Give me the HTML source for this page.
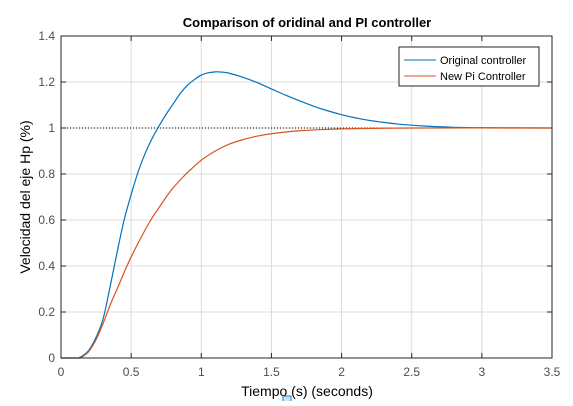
<!DOCTYPE html>
<html><head><meta charset="utf-8"><style>
body{margin:0;background:#fff}
svg text{font-family:"Liberation Sans",sans-serif}
</style></head><body>
<svg width="573" height="401" viewBox="0 0 573 401" xmlns="http://www.w3.org/2000/svg">
<rect x="0" y="0" width="573" height="401" fill="#fff"/>
<rect x="61" y="36" width="491" height="322" fill="#fff"/>
<g id="grid"></g>
<g id="ticks"></g>
<line x1="61" y1="128" x2="552" y2="128" stroke="#000" stroke-width="1" stroke-dasharray="1,2"/>
<g id="series"></g>
<rect x="61" y="36" width="491" height="322" fill="none" stroke="#262626" stroke-width="1"/>
<text x="307" y="27" text-anchor="middle" font-size="13" font-weight="bold" fill="#000">Comparison of oridinal and PI controller</text>
<text x="307" y="396" text-anchor="middle" font-size="14" fill="#000">Tiempo (s) (seconds)</text>
<text transform="translate(30,197) rotate(-90)" text-anchor="middle" font-size="14" fill="#000">Velocidad del eje Hp (%)</text>
<g>
<rect x="399" y="47" width="140" height="39" fill="#fff" stroke="#262626" stroke-width="1"/>
<line x1="404" y1="60" x2="436" y2="60" stroke="#0072bd" stroke-width="1"/>
<text x="440" y="64" font-size="11" fill="#000">Original controller</text>
<line x1="404" y1="76" x2="436" y2="76" stroke="#d95319" stroke-width="1"/>
<text x="440" y="80" font-size="11" fill="#000">New Pi Controller</text>
</g>
<rect x="283" y="396" width="8" height="6" fill="#cde4f7" stroke="#2c7bc0" stroke-width="1"/>
</svg>
<script>
const xTicks=[0,0.5,1,1.5,2,2.5,3,3.5];
const yTicks=[0,0.2,0.4,0.6,0.8,1,1.2,1.4];
const xTickLabels=["0","0.5","1","1.5","2","2.5","3","3.5"];
const yTickLabels=["0","0.2","0.4","0.6","0.8","1","1.2","1.4"];
const tOrig=[0,0.1,0.12,0.15,0.2,0.25,0.3,0.35,0.4,0.45,0.5,0.55,0.6,0.65,0.7,0.75,0.8,0.85,0.9,0.95,1.0,1.05,1.1,1.15,1.2,1.3,1.4,1.5,1.6,1.7,1.8,1.9,2.0,2.1,2.2,2.4,2.6,2.8,3.0,3.5];
const yOrig=[0,0,0,0.008,0.035,0.09,0.17,0.31,0.46,0.6,0.71,0.81,0.89,0.955,1.01,1.06,1.105,1.15,1.185,1.21,1.23,1.24,1.244,1.243,1.238,1.22,1.197,1.17,1.143,1.118,1.095,1.075,1.058,1.044,1.033,1.017,1.008,1.003,1.001,1.0];
const tNew=[0,0.1,0.13,0.15,0.2,0.25,0.3,0.35,0.4,0.47,0.55,0.64,0.7,0.75,0.8,0.87,0.9,1.0,1.1,1.2,1.3,1.4,1.5,1.7,2.0,2.5,3.5];
const yNew=[0,0,0,0.004,0.03,0.08,0.15,0.23,0.3,0.4,0.5,0.6,0.655,0.7,0.74,0.787,0.805,0.86,0.9,0.93,0.95,0.965,0.975,0.988,0.996,1,1];
const X=v=>61+v/3.5*491, Y=v=>358-v/1.4*322;
const NS="http://www.w3.org/2000/svg";
const grid=document.getElementById('grid'),ticks=document.getElementById('ticks'),series=document.getElementById('series');
function mk(tag,attrs,parent){const e=document.createElementNS(NS,tag);for(const k in attrs)e.setAttribute(k,attrs[k]);parent.appendChild(e);return e;}
xTicks.forEach((v,i)=>{
 const g=mk('line',{x1:X(v),x2:X(v),y1:36,y2:358,stroke:'#dcdcdc','stroke-width':1},grid);
 
 
 mk('line',{x1:X(v),x2:X(v),y1:358,y2:353,stroke:'#262626'},ticks);
 mk('line',{x1:X(v),x2:X(v),y1:36,y2:41,stroke:'#262626'},ticks);
 const t=mk('text',{x:X(v),y:376,'text-anchor':'middle','font-size':12,fill:'#4d4d4d'},ticks);
 t.textContent=xTickLabels[i];
 
 
});
yTicks.forEach((v,i)=>{
 const g=mk('line',{x1:61,x2:552,y1:Y(v),y2:Y(v),stroke:'#dcdcdc','stroke-width':1},grid);
 
 
 mk('line',{x1:61,x2:66,y1:Y(v),y2:Y(v),stroke:'#262626'},ticks);
 mk('line',{x1:552,x2:547,y1:Y(v),y2:Y(v),stroke:'#262626'},ticks);
 const t=mk('text',{x:55,y:Y(v)+4,'text-anchor':'end','font-size':12,fill:'#4d4d4d'},ticks);
 t.textContent=yTickLabels[i];
 
 
});
function path(ts,ys){
 const p=ts.map((t,i)=>[X(t),Y(ys[i])]);
 let d='M'+p[0][0]+','+p[0][1];
 for(let i=0;i<p.length-1;i++){
  const p0=p[Math.max(0,i-1)],p1=p[i],p2=p[i+1],p3=p[Math.min(p.length-1,i+2)];
  const c1x=p1[0]+(p2[0]-p0[0])/6,c1y=p1[1]+(p2[1]-p0[1])/6;
  const c2x=p2[0]-(p3[0]-p1[0])/6,c2y=p2[1]-(p3[1]-p1[1])/6;
  d+=` C${c1x},${c1y} ${c2x},${c2y} ${p2[0]},${p2[1]}`;
 }
 return d;
}
const l1=mk('path',{d:path(tOrig,yOrig),fill:'none',stroke:'#0072bd','stroke-width':1.2},series);


const l2=mk('path',{d:path(tNew,yNew),fill:'none',stroke:'#d95319','stroke-width':1.2},series);


</script>
</body></html>
